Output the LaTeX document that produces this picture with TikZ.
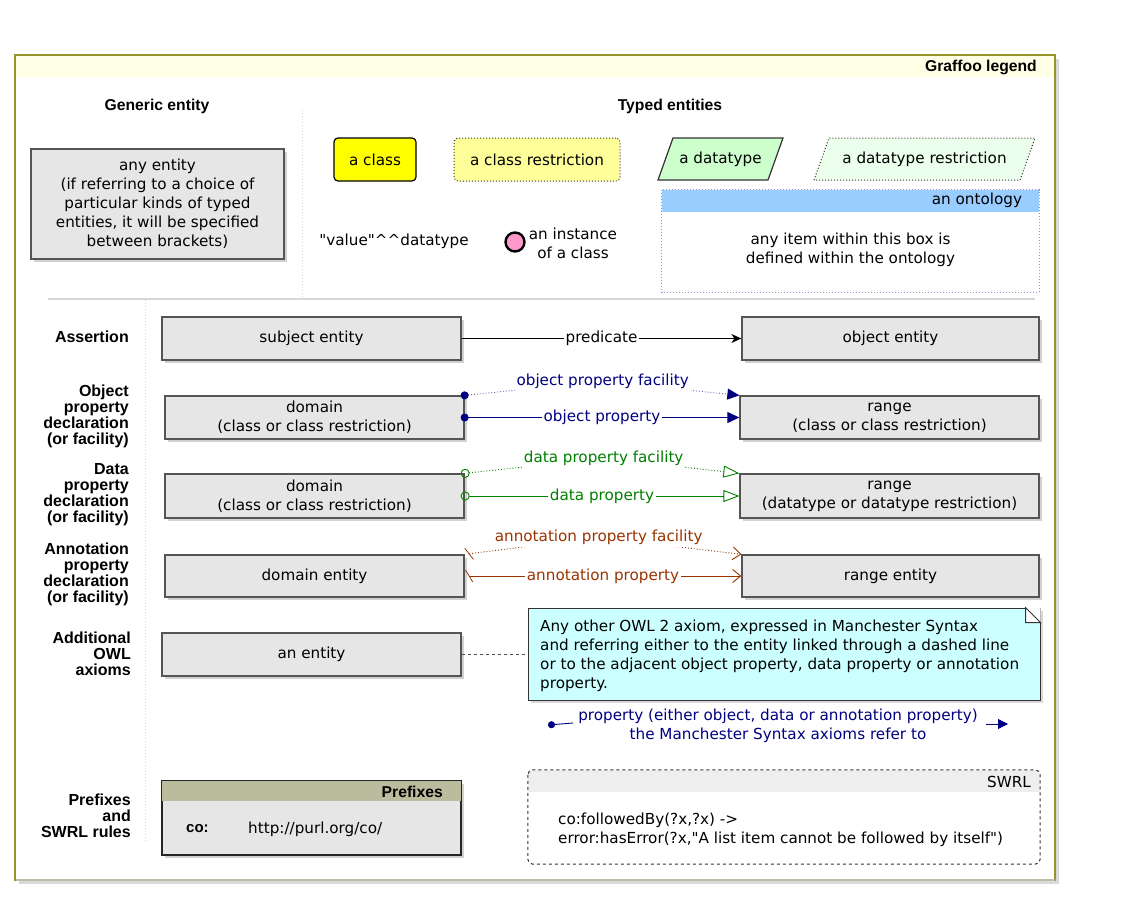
\documentclass[tikz,border=0pt]{standalone}
\usepackage{fontspec}
\setmainfont{DejaVu Sans}
\newfontfamily\bfam{DejaVu Sans}
\newfontfamily\hfam{Liberation Sans}
\usetikzlibrary{arrows.meta,shadows,positioning}
\newcommand\bodyf{\bfam\fontsize{15.2}{19}\selectfont}
\newcommand\headf{\hfam\bfseries\fontsize{15.7}{17}\selectfont}
\newcommand\labf{\hfam\bfseries\fontsize{16}{16}\selectfont}
\newcommand\qq{\symbol{34}}
\newcommand\crt{\symbol{94}}
\definecolor{navyc}{RGB}{0,0,128}
\definecolor{greenc}{RGB}{0,128,0}
\definecolor{brownc}{RGB}{153,51,0}
\definecolor{boxgray}{RGB}{230,230,230}
\definecolor{boxedge}{RGB}{85,85,85}
\definecolor{framec}{RGB}{150,150,40}
\definecolor{titlec}{RGB}{255,255,230}
\definecolor{classy}{RGB}{255,255,0}
\definecolor{restry}{RGB}{255,255,153}
\definecolor{dtg}{RGB}{204,255,204}
\definecolor{dtrg}{RGB}{236,255,236}
\definecolor{ontob}{RGB}{153,204,255}
\definecolor{ontoedge}{RGB}{150,150,200}
\definecolor{notec}{RGB}{204,255,255}
\definecolor{prefh}{RGB}{187,187,158}
\definecolor{swrlh}{RGB}{238,238,238}
\definecolor{sepc}{RGB}{215,215,215}
\definecolor{pinkc}{RGB}{255,153,204}
\tikzset{
  gbox/.style={draw=boxedge, line width=1.3pt, fill=boxgray, inner sep=2pt, align=center, font=\bodyf,
    drop shadow={shadow xshift=3pt, shadow yshift=-3pt, fill=black!18, opacity=1}},
  lab/.style={font=\labf, align=right, anchor=east, inner sep=0pt},
  head/.style={font=\headf, inner sep=0pt},
  txt/.style={font=\bodyf, align=center, inner sep=0pt},
  onlbl/.style={font=\bodyf, fill=white, inner sep=2pt},
  navyl/.style={draw=navyc, line width=0.9pt},
  greenl/.style={draw=greenc, line width=0.9pt},
  brownl/.style={draw=brownc, line width=0.9pt},
  sep/.style={draw=sepc, line width=1pt, dotted},
}
\begin{document}
\begin{tikzpicture}[x=1pt,y=-1pt]
\useasboundingbox (0,0) rectangle (1135,899);
% outer frame
\fill[black!15] (19,59) rectangle (1059,884);
\draw[framec, line width=1.2pt, fill=white] (15,55) rectangle (1055,880);
\fill[titlec] (15.6,55.6) rectangle (1054.4,77);
\draw[framec!60!black!40!white, line width=2pt] (16,880) -- (1055,880);
\node[head, anchor=east] (title) at (1037,67) {Graffoo legend};
% separators
\draw[sep] (302,110) -- (302,298);
\draw[sepc, line width=1.5pt] (48,299) -- (1035,299);
\draw[sep] (145,300) -- (145,842);
% headings
\node[head] (hgen) at (157,106) {Generic entity};
\node[head] (htyp) at (670,106) {Typed entities};
% generic entity
\node[gbox, minimum width=253pt, minimum height=110pt] (gen) at (157.5,204)
  {any entity\\(if referring to a choice of\\particular kinds of typed\\entities, it will be specified\\between brackets)};
% typed entities
\node[draw=black, line width=1.2pt, fill=classy, rounded corners=4pt, minimum width=82pt, minimum height=43pt, font=\bodyf] (cls) at (375,159.5) {a class};
\node[draw=black!80, dotted, line width=1pt, fill=restry, rounded corners=4pt, minimum width=166pt, minimum height=43pt, font=\bodyf] (crs) at (537,159.5) {a class restriction};
\draw[black!80, line width=1.2pt, fill=dtg] (658,180) -- (673,138) -- (783,138) -- (768,180) -- cycle;
\node[txt] (dt) at (720.5,159) {a datatype};
\draw[black!80, dotted, line width=1pt, fill=dtrg] (814,180) -- (829,138) -- (1035,138) -- (1020,180) -- cycle;
\node[txt] (dtr) at (924.5,159) {a datatype restriction};
\node[txt] (val) at (394,241) {\qq value\qq\crt\crt datatype};
\node[circle, draw=black, line width=2.4pt, fill=pinkc, minimum size=19pt, inner sep=0pt] (inst) at (515,242) {};
\node[txt, right=3pt of inst, yshift=-1pt] (insttxt) {an instance\\of a class};
% ontology box
\node[minimum width=377pt, minimum height=102pt, inner sep=0pt] (onto) at (850.5,241) {};
\fill[ontob] (onto.north west) rectangle ([yshift=-22pt]onto.north east);
\draw[ontoedge, dotted, line width=1pt] (onto.north west) rectangle (onto.south east);
\node[txt, anchor=east] (ontot) at ([xshift=-17pt,yshift=-11pt]onto.north east) {an ontology};
\node[txt] (ontotxt) at (850.5,250) {any item within this box is\\defined within the ontology};
% row labels
\node[lab] (l1) at (129,337) {Assertion};
\node[lab] (l2) at (129,416) {Object\\property\\declaration\\(or facility)};
\node[lab] (l3) at (129,495) {Data\\property\\declaration\\(or facility)};
\node[lab] (l4) at (129,574) {Annotation\\property\\declaration\\(or facility)};
\node[lab] (l5) at (131,654) {Additional\\OWL\\axioms};
\node[lab] (l6) at (131,816) {Prefixes\\and\\SWRL rules};
% assertion
\node[gbox, minimum width=299pt, minimum height=43pt] (subj) at (311.5,338.5) {subject entity};
\node[gbox, minimum width=297pt, minimum height=43pt] (obj) at (890.5,338.5) {object entity};
\draw[black, line width=0.9pt, -{Stealth[length=10pt,width=9pt,inset=3pt]}] (subj) -- node[onlbl] {predicate} (obj);
% object property
\node[gbox, minimum width=299pt, minimum height=43pt] (d1) at (314.5,417.5) {domain\\(class or class restriction)};
\node[gbox, minimum width=299pt, minimum height=43pt] (r1) at (889.5,417.5) {range\\(class or class restriction)};
\draw[navyl, draw=navyc!60, dotted, shorten <=-4pt, {Circle[length=8pt,fill=navyc,color=navyc]}-{Triangle[length=12pt,width=11pt,color=navyc]}]
  (d1.north east) -- ++(138,-14) node[onlbl, text=navyc] {object property facility} -- (r1.north west);
\draw[navyl, shorten <=-4pt, {Circle[length=8pt]}-{Triangle[length=12pt,width=11pt]}] (d1.east) -- node[onlbl, text=navyc] {object property} (r1.west);
% data property
\node[gbox, minimum width=299pt, minimum height=44pt] (d2) at (314.5,496) {domain\\(class or class restriction)};
\node[gbox, minimum width=299pt, minimum height=44pt] (r2) at (889.5,496) {range\\(datatype or datatype restriction)};
\draw[greenl, dotted, shorten <=-4pt, {Circle[open,length=9pt,color=greenc]}-{Triangle[open,length=16pt,width=12pt,color=greenc]}]
  (d2.north east) -- ++(139,-15) node[onlbl, text=greenc] {data property facility} -- (r2.north west);
\draw[greenl, shorten <=-4pt, {Circle[open,length=9pt]}-{Triangle[open,length=16pt,width=12pt]}] (d2.east) -- node[onlbl, text=greenc] {data property} (r2.west);
% annotation property
\node[gbox, minimum width=299pt, minimum height=42pt] (d3) at (314.5,576) {domain entity};
\node[gbox, minimum width=297pt, minimum height=42pt] (r3) at (890.5,576) {range entity};
\draw[brownl, dotted, {Bar[width=12pt,slant=-0.6,sep=4pt,color=brownc]}-{Straight Barb[length=8pt,width=13pt,color=brownc]}]
  (d3.north east) -- ++(134,-17) node[onlbl, text=brownc] {annotation property facility} -- (r3.north west);
\draw[brownl, {Bar[width=12pt,slant=-0.6,sep=4pt]}-{Straight Barb[length=8pt,width=13pt]}] (d3.east) -- node[onlbl, text=brownc] {annotation property} (r3.west);
% additional OWL axioms
\node[gbox, minimum width=299pt, minimum height=43pt] (ent) at (311.5,654.5) {an entity};
\node[draw=black!80, line width=1pt, fill=notec, minimum width=512pt, minimum height=92pt, inner sep=0pt,
  drop shadow={shadow xshift=3pt, shadow yshift=-3pt, fill=black!15, opacity=1}] (note) at (784,654) {};
\fill[white] (note.north east) -- ([xshift=-15pt]note.north east) -- ([yshift=-15pt]note.north east) -- cycle;
\draw[black!80, line width=1pt, fill=white] ([xshift=-15pt]note.north east) -- ([yshift=-15pt]note.north east) -- ([xshift=-15pt,yshift=-15pt]note.north east) -- cycle;
\node[font=\bodyf, align=left, anchor=west, inner sep=0pt] (notetxt) at (540,656)
  {Any other OWL 2 axiom, expressed in Manchester Syntax\\and referring either to the entity linked through a dashed line\\or to the adjacent object property, data property or annotation\\property.};
\draw[black!70, line width=0.9pt, dashed] (ent.east) -- (note.west |- ent.east);
\node[txt, text=navyc] (proptxt) at (778,726) {property (either object, data or annotation property)\\the Manchester Syntax axioms refer to};
\coordinate (pa) at (548,725);
\coordinate (pb) at (573,723);
\coordinate (pc) at (986,724);
\coordinate (pd) at (1008,724);
\draw[navyl, {Circle[length=7pt]}-] (pa) -- (pb);
\draw[navyl, -{Triangle[length=10pt,width=10pt]}] (pc) -- (pd);
% prefixes
\node[draw=black!85, line width=1.2pt, fill=boxgray, minimum width=299pt, minimum height=74pt, inner sep=0pt,
  drop shadow={shadow xshift=3pt, shadow yshift=-3pt, fill=black!18, opacity=1}] (pref) at (311.5,818) {};
\fill[prefh] ([xshift=0.6pt,yshift=-0.6pt]pref.north west) rectangle ([xshift=-0.6pt,yshift=-21pt]pref.north east);
\draw[black!85, line width=1.2pt] (pref.north west) rectangle (pref.south east);
\node[font=\headf, anchor=east, inner sep=0pt] (preft) at (443,792) {Prefixes};
\node[font=\hfam\bfseries\fontsize{15}{17}\selectfont, anchor=west, inner sep=0pt] (co) at (186,829) {co:};
\node[font=\bodyf, anchor=west, inner sep=0pt] (url) at (248,829) {http://purl.org/co/};
% SWRL
\node[minimum width=512pt, minimum height=94pt, inner sep=0pt] (swrl) at (784,817) {};
\begin{scope}
\clip[rounded corners=5pt] (swrl.north west) rectangle (swrl.south east);
\fill[swrlh] (swrl.north west) rectangle ([yshift=-22pt]swrl.north east);
\end{scope}
\draw[black!80, dashed, line width=1pt, rounded corners=5pt] (swrl.north west) rectangle (swrl.south east);
\node[font=\bodyf, anchor=east, inner sep=0pt] (swrlt) at (1031,782) {SWRL};
\node[font=\bodyf, align=left, anchor=west, inner sep=0pt] (swrltxt) at (558,830)
  {co:followedBy(?x,?x) ->\\error:hasError(?x,\qq A list item cannot be followed by itself\qq)};
\end{tikzpicture}
\end{document}
